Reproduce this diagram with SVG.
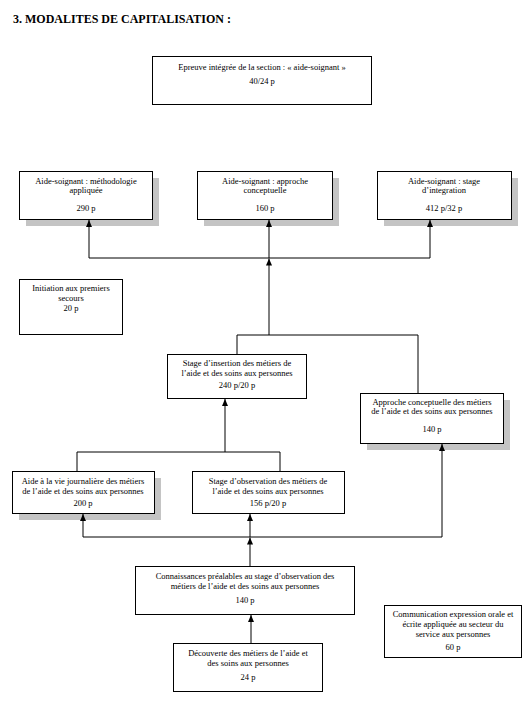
<svg xmlns="http://www.w3.org/2000/svg" width="531" height="702" viewBox="0 0 531 702">
<style>
.box{fill:#fff;stroke:#000;stroke-width:1}
.sh{fill:#c4c4c4}
.t{font-size:8.5px;fill:#000;text-anchor:middle}
.title{font-size:12px;font-weight:bold;fill:#000}
.c{fill:none;stroke:#000;stroke-width:1}
</style>
<defs>
<marker id="ah" markerUnits="userSpaceOnUse" markerWidth="7" markerHeight="6" refX="7" refY="3" orient="auto" overflow="visible">
<path d="M0,0 L7,3 L0,6 z" fill="#000"/>
</marker>
</defs>
<rect width="531" height="702" fill="#fff"/>
<g font-family="'Liberation Serif', 'Times New Roman', 'DejaVu Serif', serif">
<text class="title" x="13" y="23">3. MODALITES DE CAPITALISATION :</text>

<g id="n-epreuve">
<rect class="box" x="152.5" y="56.5" width="219" height="48"/>
<text class="t" x="262" y="70">Epreuve intégrée de la section : « aide-soignant »</text>
<text class="t" x="262" y="84">40/24 p</text>
</g>

<g id="n-methodologie">
<rect class="sh" x="26" y="178" width="133" height="48"/>
<rect class="box" x="19.5" y="171.5" width="133" height="48"/>
<text class="t" x="86" y="184">Aide-soignant : méthodologie</text>
<text class="t" x="86" y="193">appliquée</text>
<text class="t" x="86" y="211">290 p</text>
</g>

<g id="n-approche">
<rect class="sh" x="204" y="178" width="135" height="48"/>
<rect class="box" x="197.5" y="171.5" width="135" height="48"/>
<text class="t" x="265" y="184">Aide-soignant : approche</text>
<text class="t" x="265" y="193">conceptuelle</text>
<text class="t" x="265" y="211">160 p</text>
</g>

<g id="n-stage-integration">
<rect class="sh" x="384" y="178" width="134" height="48"/>
<rect class="box" x="377.5" y="171.5" width="134" height="48"/>
<text class="t" x="444" y="184">Aide-soignant : stage</text>
<text class="t" x="444" y="193">d’integration</text>
<text class="t" x="444" y="211">412 p/32 p</text>
</g>

<g id="n-secours">
<rect class="box" x="19.5" y="279.5" width="103" height="55"/>
<text class="t" x="71" y="291">Initiation aux premiers</text>
<text class="t" x="71" y="301">secours</text>
<text class="t" x="71" y="311">20 p</text>
</g>

<g id="n-stage-insertion">
<rect class="box" x="167.5" y="354.5" width="139" height="44"/>
<text class="t" x="237" y="366">Stage d’insertion des métiers de</text>
<text class="t" x="237" y="376">l’aide et des soins aux personnes</text>
<text class="t" x="237" y="388">240 p/20 p</text>
</g>

<g id="n-approche-metiers">
<rect class="sh" x="367" y="400" width="143" height="50"/>
<rect class="box" x="360.5" y="393.5" width="143" height="50"/>
<text class="t" x="432" y="405">Approche conceptuelle des métiers</text>
<text class="t" x="432" y="414">de l’aide et des soins aux personnes</text>
<text class="t" x="432" y="432">140 p</text>
</g>

<g id="n-aide-vie">
<rect class="sh" x="19" y="478" width="142" height="42"/>
<rect class="box" x="12.5" y="471.5" width="142" height="42"/>
<text class="t" x="83" y="484">Aide à la vie journalière des métiers</text>
<text class="t" x="83" y="494">de l’aide et des soins aux personnes</text>
<text class="t" x="83" y="506">200 p</text>
</g>

<g id="n-stage-observation">
<rect class="box" x="192.5" y="471.5" width="152" height="42"/>
<text class="t" x="268" y="484">Stage d’observation des métiers de</text>
<text class="t" x="268" y="494">l’aide et des soins aux personnes</text>
<text class="t" x="268" y="506">156 p/20 p</text>
</g>

<g id="n-connaissances">
<rect class="box" x="135.5" y="566.5" width="219" height="48"/>
<text class="t" x="245" y="579">Connaissances préalables au stage d’observation des</text>
<text class="t" x="245" y="589">métiers de l’aide et des soins aux personnes</text>
<text class="t" x="245" y="603">140 p</text>
</g>

<g id="n-decouverte">
<rect class="box" x="173.5" y="643.5" width="149" height="48"/>
<text class="t" x="248" y="656">Découverte des métiers de l’aide et</text>
<text class="t" x="248" y="666">des soins aux personnes</text>
<text class="t" x="248" y="680">24 p</text>
</g>

<g id="n-communication">
<rect class="box" x="384.5" y="605.5" width="137" height="52"/>
<text class="t" x="453" y="617">Communication expression orale et</text>
<text class="t" x="453" y="627">écrite appliquée au secteur du</text>
<text class="t" x="453" y="637">service aux personnes</text>
<text class="t" x="453" y="650">60 p</text>
</g>
</g>

<g id="connectors">
<path class="c" d="M89,258 H430"/>
<path class="c" d="M89,258 V220" marker-end="url(#ah)"/>
<path class="c" d="M430,258 V220" marker-end="url(#ah)"/>
<path class="c" d="M269,335 V258.5" marker-end="url(#ah)"/>
<path class="c" d="M269,258 V220" marker-end="url(#ah)"/>
<path class="c" d="M237,354 V335 H418 V393"/>
<path class="c" d="M225,452 V399" marker-end="url(#ah)"/>
<path class="c" d="M77,471 V452 H280 V471"/>
<path class="c" d="M83,537 H442"/>
<path class="c" d="M83,537 V514" marker-end="url(#ah)"/>
<path class="c" d="M442,537 V444" marker-end="url(#ah)"/>
<path class="c" d="M250,566 V537.5" marker-end="url(#ah)"/>
<path class="c" d="M250,537 V514" marker-end="url(#ah)"/>
<path class="c" d="M251,643 V615" marker-end="url(#ah)"/>
</g>
</svg>
